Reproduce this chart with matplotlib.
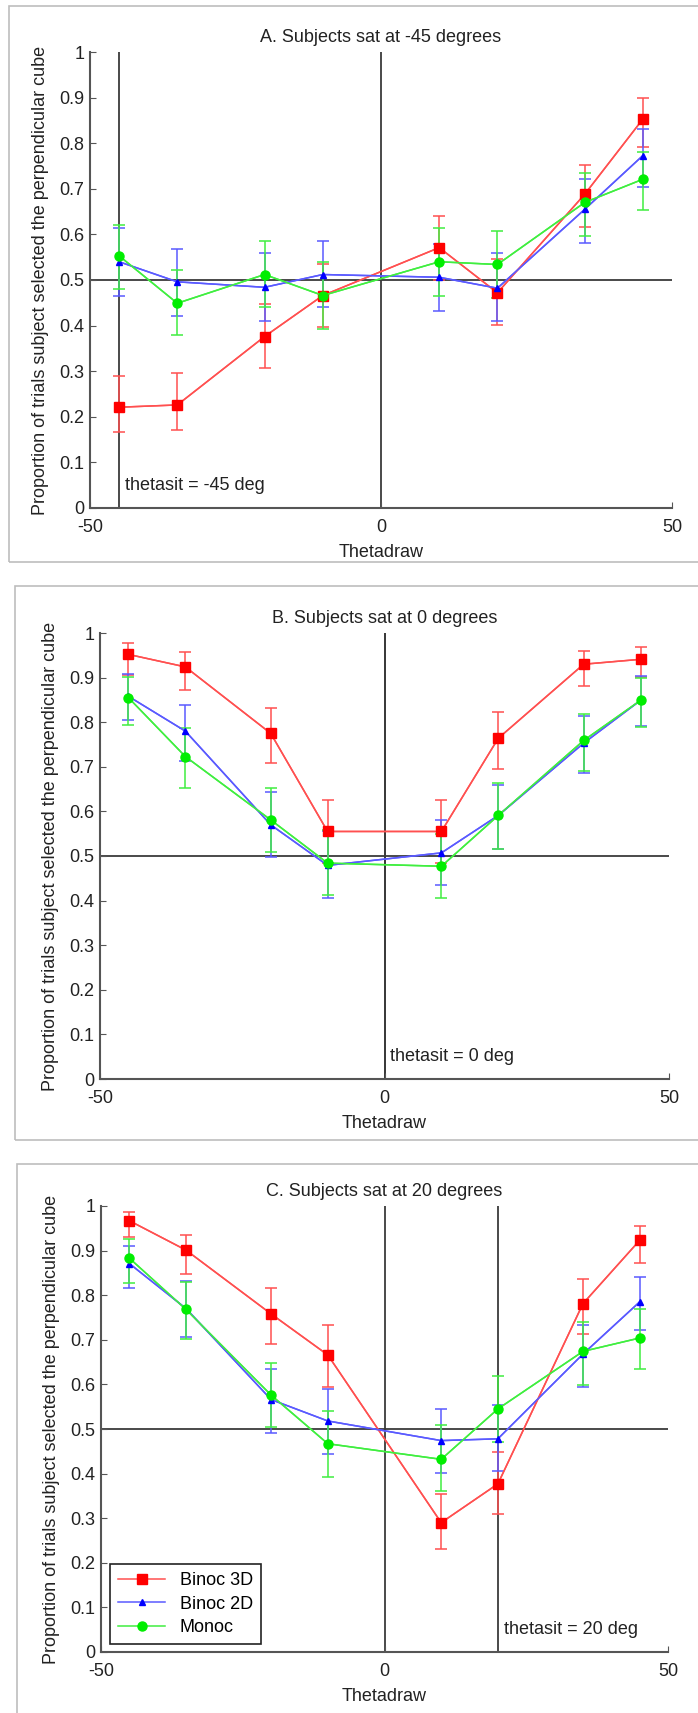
import numpy as np
import matplotlib
matplotlib.use('Agg')
import matplotlib.pyplot as plt
from matplotlib.patches import Rectangle

plt.rcParams['font.family'] = ['Liberation Sans', 'DejaVu Sans']
plt.rcParams['font.size'] = 13
plt.rcParams['axes.unicode_minus'] = False

# x positions (Thetadraw) and the three sitting angles
thetadraw = [-45, -35, -20, -10, 10, 20, 35, 45]
thetasit = [-45, 0, 20]
titles = ['A. Subjects sat at -45 degrees',
          'B. Subjects sat at 0 degrees',
          'C. Subjects sat at 20 degrees']
series_names = ['Binoc 3D', 'Binoc 2D', 'Monoc']

# Panel A
a_3d    = [0.221, 0.226, 0.376, 0.466, 0.571, 0.472, 0.688, 0.853]
a_3d_lo = [0.167, 0.172, 0.308, 0.398, 0.500, 0.401, 0.616, 0.792]
a_3d_hi = [0.289, 0.295, 0.448, 0.535, 0.641, 0.545, 0.753, 0.899]
a_2d    = [0.540, 0.496, 0.484, 0.512, 0.506, 0.482, 0.655, 0.773]
a_2d_lo = [0.466, 0.422, 0.410, 0.440, 0.433, 0.410, 0.582, 0.704]
a_2d_hi = [0.615, 0.567, 0.559, 0.586, 0.580, 0.559, 0.722, 0.831]
a_mo    = [0.553, 0.449, 0.512, 0.466, 0.540, 0.534, 0.670, 0.721]
a_mo_lo = [0.480, 0.380, 0.440, 0.393, 0.466, 0.461, 0.597, 0.653]
a_mo_hi = [0.621, 0.522, 0.585, 0.540, 0.615, 0.608, 0.735, 0.781]

# Panel B
b_3d    = [0.952, 0.924, 0.775, 0.555, 0.555, 0.764, 0.930, 0.941]
b_3d_lo = [0.906, 0.873, 0.709, 0.485, 0.485, 0.696, 0.881, 0.902]
b_3d_hi = [0.978, 0.957, 0.832, 0.626, 0.626, 0.822, 0.959, 0.969]
b_2d    = [0.858, 0.780, 0.570, 0.479, 0.507, 0.591, 0.753, 0.849]
b_2d_lo = [0.804, 0.712, 0.497, 0.405, 0.435, 0.516, 0.685, 0.792]
b_2d_hi = [0.907, 0.839, 0.644, 0.555, 0.581, 0.659, 0.814, 0.903]
b_mo    = [0.855, 0.723, 0.581, 0.484, 0.477, 0.591, 0.759, 0.849]
b_mo_lo = [0.794, 0.652, 0.509, 0.412, 0.405, 0.516, 0.691, 0.789]
b_mo_hi = [0.902, 0.786, 0.652, 0.558, 0.550, 0.663, 0.818, 0.900]

# Panel C
c_3d    = [0.967, 0.901, 0.758, 0.666, 0.290, 0.377, 0.781, 0.923]
c_3d_lo = [0.930, 0.848, 0.691, 0.594, 0.231, 0.309, 0.713, 0.873]
c_3d_hi = [0.986, 0.936, 0.817, 0.734, 0.355, 0.449, 0.836, 0.955]
c_2d    = [0.871, 0.770, 0.566, 0.518, 0.474, 0.478, 0.668, 0.785]
c_2d_lo = [0.816, 0.707, 0.490, 0.445, 0.402, 0.406, 0.594, 0.721]
c_2d_hi = [0.911, 0.832, 0.635, 0.590, 0.545, 0.553, 0.734, 0.840]
c_mo    = [0.883, 0.768, 0.576, 0.467, 0.432, 0.545, 0.674, 0.704]
c_mo_lo = [0.828, 0.701, 0.504, 0.393, 0.361, 0.471, 0.598, 0.635]
c_mo_hi = [0.925, 0.830, 0.648, 0.541, 0.508, 0.619, 0.740, 0.770]

panels = [
    [(a_3d, a_3d_lo, a_3d_hi), (a_2d, a_2d_lo, a_2d_hi), (a_mo, a_mo_lo, a_mo_hi)],
    [(b_3d, b_3d_lo, b_3d_hi), (b_2d, b_2d_lo, b_2d_hi), (b_mo, b_mo_lo, b_mo_hi)],
    [(c_3d, c_3d_lo, c_3d_hi), (c_2d, c_2d_lo, c_2d_hi), (c_mo, c_mo_lo, c_mo_hi)],
]

# styles: line colour, marker colour, marker, marker size
styles = [('#ff5050', '#ff0000', 's', 6.5),
          ('#5a5aff', '#0000ff', '^', 4.5),
          ('#40ee40', '#00ee00', 'o', 6.5)]

W, H = 698, 1713
fig = plt.figure(figsize=(W / 100, H / 100), dpi=100)

# axes boxes in pixels: left, top, right, bottom
boxes = [(90, 52, 672, 508), (100, 633, 669, 1079), (101, 1206, 668, 1652)]
# panel frames in pixels: left, top, bottom
frames = [(9, 6, 562), (15, 586, 1140), (17, 1164, 1800)]

for fx, ft, fb in frames:
    fig.add_artist(Rectangle((fx / W, 1 - fb / H), 1.2, (fb - ft) / H,
                             transform=fig.transFigure, fill=False,
                             edgecolor='#bdbdbd', lw=1.2, clip_on=False))

x = np.array(thetadraw)
for i, (l, t, r, b) in enumerate(boxes):
    ax = fig.add_axes([l / W, 1 - b / H, (r - l) / W, (b - t) / H])

    # reference lines
    ax.axhline(0.5, color='#3a3a3a', lw=1.3, zorder=1)
    ax.axvline(0, color='#3a3a3a', lw=1.3, zorder=1)
    ax.axvline(thetasit[i], color='#3a3a3a', lw=1.3, zorder=1)

    for (y, lo, hi), (lc, mc, mk, ms), name in zip(panels[i], styles, series_names):
        y = np.array(y)
        err = [y - np.array(lo), np.array(hi) - y]
        ax.errorbar(x, y, yerr=err, color=lc, lw=1.1, elinewidth=1.1,
                    capsize=4.5, capthick=1.1, zorder=2)
        ax.plot(x, y, color=lc, lw=1.1, marker=mk, markersize=ms,
                markerfacecolor=mc, markeredgecolor=mc, label=name, zorder=3)

    ax.text(thetasit[i] + 1, 0.05, 'thetasit = %d deg' % thetasit[i],
            va='center', ha='left', fontsize=13, color='#222222')

    ax.set_xlim(-50, 50)
    ax.set_ylim(0, 1)
    ax.set_xticks([-50, 0, 50])
    ax.set_yticks(np.arange(0, 1.01, 0.1))
    ax.set_yticklabels(['0', '0.1', '0.2', '0.3', '0.4', '0.5', '0.6',
                        '0.7', '0.8', '0.9', '1'])
    for s in ['top', 'right']:
        ax.spines[s].set_visible(False)
    for s in ['left', 'bottom']:
        ax.spines[s].set_color('#555555')
        ax.spines[s].set_linewidth(1.5)
    ax.tick_params(direction='in', length=4, color='#555555', labelsize=13,
                   labelcolor='#222222')
    ax.tick_params(axis='x', pad=8)
    ax.tick_params(axis='y', pad=4)

    ax.set_title(titles[i], fontsize=13, pad=7, color='#222222')
    ax.set_xlabel('Thetadraw', fontsize=13, labelpad=6, color='#222222')
    ax.set_ylabel('Proportion of trials subject selected the perpendicular cube',
                  fontsize=13, color='#222222')
    ax.yaxis.set_label_coords(-41 / (r - l), 0.5)

    if i == 2:
        leg = ax.legend(loc='lower left', bbox_to_anchor=(0.016, 0.018),
                        borderaxespad=0, fancybox=False, framealpha=1,
                        edgecolor='#222222', fontsize=13, handlelength=2.6,
                        labelspacing=0.35, borderpad=0.45)
        leg.get_frame().set_linewidth(1.2)

fig.savefig('out.png', dpi=100)
